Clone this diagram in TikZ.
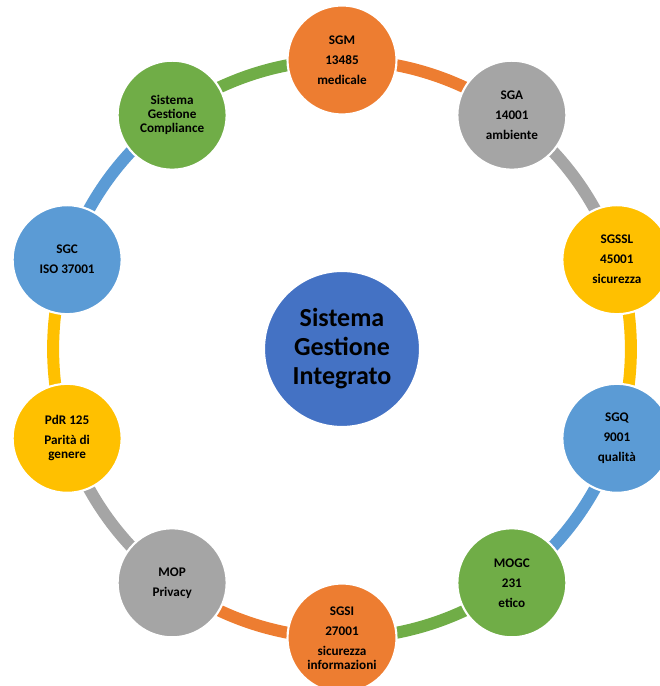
\documentclass[tikz,border=0pt]{standalone}
\usepackage{fontspec}
\setmainfont{Carlito}
\usetikzlibrary{calc,backgrounds}
\definecolor{sgorange}{HTML}{ED7D31}
\definecolor{sggray}{HTML}{A5A5A5}
\definecolor{sgyellow}{HTML}{FFC000}
\definecolor{sgblue}{HTML}{5B9BD5}
\definecolor{sggreen}{HTML}{70AD47}
\definecolor{sgcentre}{HTML}{4472C4}
\def\ringrad{5.78}
\tikzset{
	satellite/.style={circle, fill=#1, draw=white, line width=1.2pt, minimum size=2.18cm, inner sep=0pt,
		align=center, font=\bfseries\fontsize{7.5}{7.9}\selectfont},
	link/.style={draw=#1, line width=0.24cm, bend left=18, looseness=0.87},
}
\begin{document}
\begin{tikzpicture}
		%%%%% START %%%%%
		\useasboundingbox (0, 0) rectangle (13.18, 13.72);
		
		\coordinate (ring) at (6.84, 6.74);
		
		\node[circle, fill=sgcentre, draw=white, line width=1.2pt, minimum size=3.12cm, align=center,
			font=\bfseries\fontsize{14.8}{16.5}\selectfont] (sgi) at (ring) {Sistema\\Gestione\\Integrato};
		
		\node[satellite=sgorange] (sgm) at ($(ring)+(90:\ringrad)$) {SGM\\[3.5pt]13485\\[3.5pt]medicale};
		\node[satellite=sggray] (sga) at ($(ring)+(54:\ringrad)$) {SGA\\[3.5pt]14001\\[3.5pt]ambiente};
		\node[satellite=sgyellow] (sgssl) at ($(ring)+(18:\ringrad)$) {SGSSL\\[3.5pt]45001\\[3.5pt]sicurezza};
		\node[satellite=sgblue] (sgq) at ($(ring)+(-18:\ringrad)$) {SGQ\\[3.5pt]9001\\[3.5pt]qualità};
		\node[satellite=sggreen] (mogc) at ($(ring)+(-54:\ringrad)$) {MOGC\\[3.5pt]231\\[3.5pt]etico};
		\node[satellite=sgorange] (sgsi) at ($(ring)+(-90:\ringrad)$) {SGSI\\[3.5pt]27001\\[3.5pt]sicurezza\\informazioni};
		\node[satellite=sggray] (mop) at ($(ring)+(-126:\ringrad)$) {MOP\\[3.5pt]Privacy};
		\node[satellite=sgyellow] (pdr) at ($(ring)+(-162:\ringrad)$) {PdR 125\\[3.5pt]Parità di\\genere};
		\node[satellite=sgblue] (sgc) at ($(ring)+(162:\ringrad)$) {SGC\\[3.5pt]ISO 37001};
		\node[satellite=sggreen] (sgcomp) at ($(ring)+(126:\ringrad)$) {Sistema\\Gestione\\Compliance};
		
		% the ring, behind the circles
		\begin{scope}[on background layer]
			\draw[link=sgorange] (sgm.center) to (sga.center);
			\draw[link=sggray] (sga.center) to (sgssl.center);
			\draw[link=sgyellow] (sgssl.center) to (sgq.center);
			\draw[link=sgblue] (sgq.center) to (mogc.center);
			\draw[link=sggreen] (mogc.center) to (sgsi.center);
			\draw[link=sgorange] (sgsi.center) to (mop.center);
			\draw[link=sggray] (mop.center) to (pdr.center);
			\draw[link=sgyellow] (pdr.center) to (sgc.center);
			\draw[link=sgblue] (sgc.center) to (sgcomp.center);
			\draw[link=sggreen] (sgcomp.center) to (sgm.center);
		\end{scope}
		
		%%%%% END %%%%%
	\end{tikzpicture}
\end{document}
